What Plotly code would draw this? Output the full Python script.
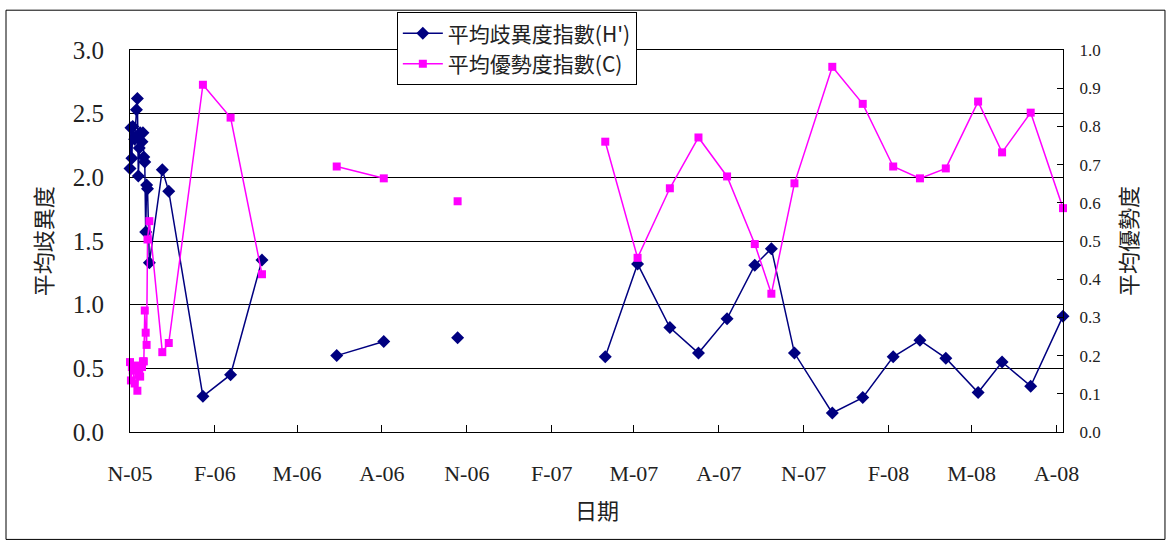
import plotly.graph_objects as go

# Sampling dates (None rows mark periods with no survey, which break the lines)
dates = [
    "2005-11-01", "2005-11-02", "2005-11-03", "2005-11-04", "2005-11-06",
    "2005-11-08", "2005-11-09", "2005-11-10", "2005-11-11", "2005-11-12",
    "2005-11-14", "2005-11-15", "2005-11-16", "2005-11-17", "2005-11-18",
    "2005-11-19", "2005-11-20", "2005-11-22",
    "2005-12-06", "2005-12-13", "2006-01-19", "2006-02-18", "2006-03-24",
    "2006-05-01",
    "2006-06-13", "2006-08-03",
    "2006-09-15",
    "2006-10-22",
    "2007-01-01",
    "2007-03-31", "2007-05-05", "2007-06-09", "2007-07-10", "2007-08-10",
    "2007-09-09", "2007-09-27", "2007-10-22", "2007-12-02", "2008-01-04",
    "2008-02-06", "2008-03-06", "2008-04-03", "2008-05-08", "2008-06-03",
    "2008-07-04", "2008-08-08",
]

# 平均歧異度指數 (H')
diversity = [
    2.07, 2.39, 2.15, 2.40, 2.30,
    2.53, 2.62, 2.01, 2.23, 2.35,
    2.28, 2.35, 2.16, 2.12, 1.57,
    1.94, 1.91, 1.33,
    2.06, 1.89, 0.28, 0.45, 1.35,
    None,
    0.60, 0.71,
    None,
    0.74,
    None,
    0.59, 1.32, 0.82, 0.62, 0.89,
    1.31, 1.44, 0.62, 0.15, 0.27,
    0.59, 0.72, 0.58, 0.31, 0.55,
    0.36, 0.91,
]

# 平均優勢度指數 (C)
dominance = [
    0.183, 0.135, 0.170, 0.161, 0.127,
    0.174, 0.108, 0.150, 0.157, 0.145,
    0.170, 0.185, 0.185, 0.318, 0.260,
    0.228, 0.504, 0.552,
    0.209, 0.233, 0.909, 0.823, 0.413,
    None,
    0.695, 0.664,
    None,
    0.604,
    None,
    0.760, 0.456, 0.638, 0.771, 0.669,
    0.492, 0.362, 0.651, 0.956, 0.859,
    0.695, 0.664, 0.690, 0.865, 0.732,
    0.836, 0.586,
]

tick_dates = [
    "2005-11-01", "2006-02-01", "2006-05-01", "2006-08-01", "2006-11-01",
    "2007-02-01", "2007-05-01", "2007-08-01", "2007-11-01", "2008-02-01",
    "2008-05-01", "2008-08-01",
]
tick_labels = [
    "N-05", "F-06", "M-06", "A-06", "N-06", "F-07",
    "M-07", "A-07", "N-07", "F-08", "M-08", "A-08",
]

NAVY = "#000080"
MAGENTA = "#FF00FF"
SERIF = "Liberation Serif, Times New Roman, serif"
CJK = "Noto Sans CJK TC, Noto Sans, sans-serif"

fig = go.Figure()
fig.add_trace(go.Scatter(
    x=dates, y=diversity, name="平均歧異度指數(H')",
    mode="lines+markers",
    line=dict(color=NAVY, width=1.5),
    marker=dict(symbol="diamond", size=10, color=NAVY),
    cliponaxis=False,
))
fig.add_trace(go.Scatter(
    x=dates, y=dominance, name="平均優勢度指數(C)",
    mode="lines+markers", yaxis="y2",
    line=dict(color=MAGENTA, width=1.5),
    marker=dict(symbol="square", size=8, color=MAGENTA),
    cliponaxis=False,
))

fig.update_layout(
    width=1168, height=542,
    margin=dict(l=130, r=105, t=48, b=110),
    paper_bgcolor="white", plot_bgcolor="white",
    showlegend=True,
    legend=dict(
        x=0.286, y=1.099, xanchor="left", yanchor="top",
        bgcolor="white", bordercolor="black", borderwidth=1,
        font=dict(family=CJK, size=21, color="#222"),
        itemwidth=40, tracegroupgap=0,
    ),
    xaxis=dict(
        type="date", range=["2005-11-01", "2008-08-08"],
        tickmode="array", tickvals=tick_dates, ticktext=tick_labels,
        ticks="inside", ticklen=7, tickcolor="black",
        showline=True, linecolor="black", linewidth=1, mirror=True,
        showgrid=False, zeroline=False,
        ticklabelstandoff=22,
        tickfont=dict(family=SERIF, size=22, color="#222"),
    ),
    yaxis=dict(
        range=[0, 3], dtick=0.5, tickformat=".1f",
        showline=True, linecolor="black", linewidth=1,
        showgrid=True, gridcolor="black", gridwidth=1,
        zeroline=False, ticks="",
        ticklabelstandoff=20,
        tickfont=dict(family=SERIF, size=25, color="#222"),
    ),
    yaxis2=dict(
        range=[0, 1], dtick=0.1, tickformat=".1f",
        overlaying="y", side="right",
        showline=True, linecolor="black", linewidth=1,
        showgrid=False, zeroline=False,
        ticks="inside", ticklen=6, tickcolor="black",
        ticklabelstandoff=12,
        tickfont=dict(family=SERIF, size=17, color="#222"),
    ),
)

# Axis titles
fig.add_annotation(
    text="平均歧異度", textangle=-90, xref="paper", yref="paper",
    x=-0.094, y=0.5, xanchor="center", yanchor="middle", showarrow=False,
    font=dict(family=CJK, size=22, color="#222"),
)
fig.add_annotation(
    text="平均優勢度", textangle=-90, xref="paper", yref="paper",
    x=1.0686, y=0.5, xanchor="center", yanchor="middle", showarrow=False,
    font=dict(family=CJK, size=22, color="#222"),
)
fig.add_annotation(
    text="日期", xref="paper", yref="paper",
    x=0.5, y=-0.201, xanchor="center", yanchor="middle", showarrow=False,
    font=dict(family=CJK, size=22, color="#222"),
)

# Chart border around the whole figure
fig.add_shape(
    type="rect", xref="paper", yref="paper",
    x0=-0.1329, x1=1.1093, y0=-0.2812, y1=1.1042,
    line=dict(color="black", width=1), fillcolor="rgba(0,0,0,0)",
    layer="below",
)

fig.write_html("out.html")
